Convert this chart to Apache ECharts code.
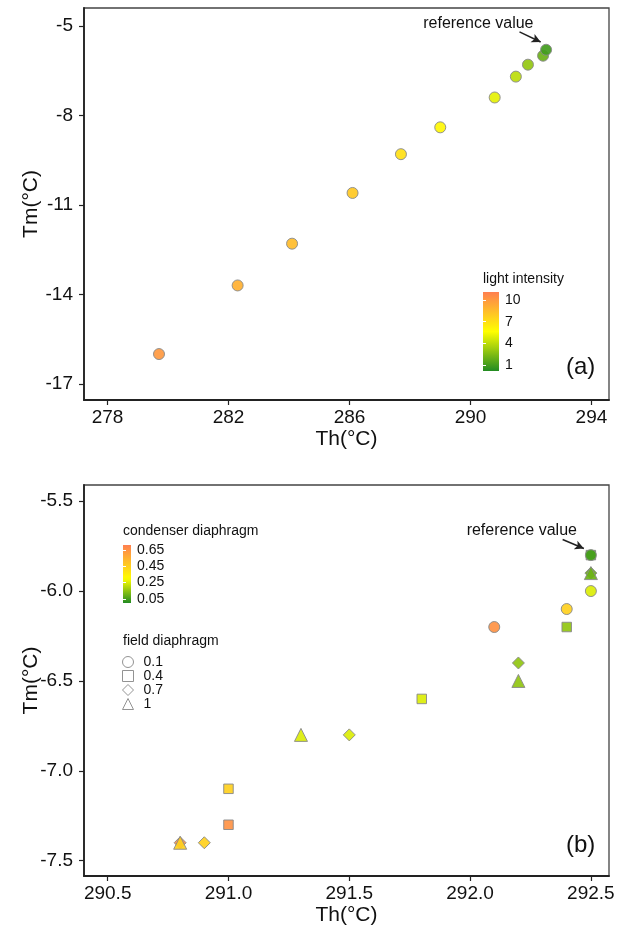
<!DOCTYPE html>
<html>
<head>
<meta charset="utf-8">
<script src="https://cdn.jsdelivr.net/npm/echarts@6/dist/echarts.min.js"></script>
<style>
  html, body { margin: 0; padding: 0; background: #fff; }
  #chart { width: 619px; height: 929px; }
</style>
</head>
<body>
<div id="chart"></div>
<script>
// panel (a): light intensity series
var thA = [279.7, 282.3, 284.1, 286.1, 287.7, 289.0, 290.8, 291.5, 291.9, 292.4, 292.5];
var tmA = [-16.0, -13.7, -12.3, -10.6, -9.3, -8.4, -7.4, -6.7, -6.3, -6.0, -5.8];
var lightA = [10, 9, 8.5, 8, 7, 6, 5, 4, 3, 2, 1];

// panel (b): condenser / field diaphragm series
var thB = [292.5, 292.5, 292.5, 292.5, 292.5, 292.4, 292.4, 292.1, 292.2, 292.2, 291.8, 291.3, 291.5, 291.0, 291.0, 290.8, 290.9, 290.8];
var tmB = [-5.8, -5.8, -5.9, -5.9, -6.0, -6.1, -6.2, -6.2, -6.4, -6.5, -6.6, -6.8, -6.8, -7.1, -7.3, -7.4, -7.4, -7.4];
var condB = [0.05, 0.05, 0.1, 0.1, 0.25, 0.45, 0.15, 0.65, 0.15, 0.15, 0.25, 0.25, 0.25, 0.45, 0.65, 0.45, 0.45, 0.65];
var fieldB = [0.4, 0.1, 1, 0.7, 0.1, 0.1, 0.4, 0.1, 0.7, 1, 0.4, 1, 0.7, 0.4, 0.4, 1, 0.7, 0.7];

// tick labels
var xTicksA = [278, 282, 286, 290, 294];
var yTicksA = [-17, -14, -11, -8, -5];
var xTicksB = [290.5, 291.0, 291.5, 292.0, 292.5];
var yTicksB = [-7.5, -7.0, -6.5, -6.0, -5.5];
var lightTicks = [1, 4, 7, 10];
var condTicks = [0.05, 0.25, 0.45, 0.65];
var fieldLevels = [0.1, 0.4, 0.7, 1];

// annotation anchors (data coords)
var refTextA = [290.26, -4.93];
var refArrowA = [[291.62, -5.2], [292.32, -5.54]];
var refTextB = [292.214, -5.661];
var refArrowB = [[292.383, -5.713], [292.471, -5.763]];

var FONT = '"Liberation Sans", Arial, sans-serif';
var rampColors = ['#228B22', '#FFFF00', '#FF7F50'];
var lightRange = [0.2, 11.1];
var condRange = [0, 0.71];

var chart = echarts.init(document.getElementById('chart'));

// green -> yellow -> coral, with yellow at position 'mid' (0..1)
function hexToRgb(h) { return [1, 3, 5].map(function (i) { return parseInt(h.substr(i, 2), 16); }); }
function mix(a, b, t) {
    var A = hexToRgb(a), B = hexToRgb(b);
    return 'rgb(' + A.map(function (v, i) { return Math.round(v + (B[i] - v) * t); }).join(',') + ')';
}
function rampAt(t, mid) {
    return t <= mid ? mix(rampColors[0], rampColors[1], t / mid) : mix(rampColors[1], rampColors[2], (t - mid) / (1 - mid));
}
function rampList(mid) {
    var out = [];
    for (var i = 0; i <= 20; i++) out.push(rampAt(i / 20, mid));
    return out;
}

function mainX(grid, min, max, ticks, fmt) {
    return {
        type: 'value', gridIndex: grid, min: min, max: max,
        name: 'Th(°C)', nameLocation: 'middle', nameGap: 29, nameMoveOverlap: false,
        nameTextStyle: { fontSize: 21, color: '#111', fontFamily: FONT },
        splitLine: { show: false },
        axisLine: { show: true, onZero: false, lineStyle: { color: '#222', width: 1.8 } },
        axisTick: { show: true, length: 5, lineStyle: { color: '#222', width: 1.2 }, customValues: ticks },
        axisLabel: { fontSize: 19, color: '#111', fontFamily: FONT, margin: 8, customValues: ticks, formatter: fmt }
    };
}
function mainY(grid, min, max, ticks, fmt) {
    return {
        type: 'value', gridIndex: grid, min: min, max: max,
        name: 'Tm(°C)', nameLocation: 'middle', nameGap: 42, nameMoveOverlap: false,
        nameTextStyle: { fontSize: 21, color: '#111', fontFamily: FONT },
        splitLine: { show: false },
        axisLine: { show: true, onZero: false, lineStyle: { color: '#222', width: 1.8 } },
        axisTick: { show: true, length: 5, lineStyle: { color: '#222', width: 1.2 }, customValues: ticks },
        axisLabel: { fontSize: 19, color: '#111', fontFamily: FONT, margin: 11, customValues: ticks, formatter: fmt }
    };
}
function barY(grid, range, ticks, side, showLabel) {
    return {
        type: 'value', gridIndex: grid, min: range[0], max: range[1], position: side, z: 10,
        splitLine: { show: false },
        axisLine: { show: false },
        axisTick: { show: true, inside: true, length: 3, lineStyle: { color: '#fff', width: 1 }, customValues: ticks },
        axisLabel: { show: showLabel, fontSize: 14, color: '#111', fontFamily: FONT, margin: 6, customValues: ticks }
    };
}
function hiddenX(grid) {
    return { type: 'value', gridIndex: grid, min: 0, max: 1, show: false };
}
function rampArea(range, mid) {
    var stops = [];
    for (var i = 0; i <= 20; i++) stops.push({ offset: i / 20, color: rampAt(i / 20, mid) });
    return {
        silent: true,
        itemStyle: { opacity: 1, color: { type: 'linear', x: 0, y: 1, x2: 0, y2: 0, colorStops: stops } },
        data: [[{ xAxis: 0, yAxis: range[0] }, { xAxis: 1, yAxis: range[1] }]]
    };
}
function refMarks(textPos, arrow) {
    return {
        markLine: {
            silent: true, symbol: ['none', 'arrow'], symbolSize: [7, 9],
            lineStyle: { color: '#222', width: 1.5, type: 'solid' },
            label: { show: false },
            data: [[{ coord: arrow[0] }, { coord: arrow[1] }]]
        },
        markPoint: {
            silent: true, symbol: 'circle', symbolSize: 0,
            label: { show: true, position: 'inside', formatter: 'reference value', fontSize: 16, color: '#111', fontFamily: FONT },
            data: [{ coord: textPos }]
        }
    };
}

var midA = 0.5, midB = 0.42;

var dataA = thA.map(function (x, i) { return [x, tmA[i], lightA[i]]; });

var shapeOf = { 0.1: 'circle', 0.4: 'rect', 0.7: 'diamond', 1: 'triangle' };
var sizeOf = { 0.1: 11, 0.4: 9.5, 0.7: 12, 1: 13 };
// draw order: squares, circles, diamonds, triangles
var drawOrder = [0.4, 0.1, 0.7, 1];
var seriesB = drawOrder.map(function (f) {
    var pts = [];
    thB.forEach(function (x, i) { if (fieldB[i] === f) pts.push([x, tmB[i], condB[i]]); });
    var s = {
        name: String(f), type: 'scatter', xAxisIndex: 1, yAxisIndex: 1,
        symbol: shapeOf[f], symbolSize: sizeOf[f],
        itemStyle: { borderColor: '#8a8a8a', borderWidth: 1, opacity: 0.92 },
        data: pts
    };
    if (f === 1) Object.assign(s, refMarks(refTextB, refArrowB));
    return s;
});

var seriesA = Object.assign({
    name: 'light', type: 'scatter', xAxisIndex: 0, yAxisIndex: 0,
    symbol: 'circle', symbolSize: 11,
    itemStyle: { borderColor: '#8a8a8a', borderWidth: 1, opacity: 0.92 },
    data: dataA
}, refMarks(refTextA, refArrowA));

var option = {
    backgroundColor: '#fff',
    animation: false,
    textStyle: { fontFamily: FONT },
    grid: [
        { left: 84, top: 8, width: 525, height: 392, show: true, borderColor: '#444', borderWidth: 1.3 },
        { left: 84, top: 485, width: 525, height: 391, show: true, borderColor: '#444', borderWidth: 1.3 },
        { left: 483, top: 292, width: 16, height: 79 },
        { left: 123, top: 545, width: 8, height: 58 }
    ],
    xAxis: [
        mainX(0, 277.22, 294.58, xTicksA),
        mainX(1, 290.402, 292.575, xTicksB, function (v) { return v.toFixed(1); }),
        hiddenX(2),
        hiddenX(3)
    ],
    yAxis: [
        mainY(0, -17.54, -4.40, yTicksA),
        mainY(1, -7.585, -5.41, yTicksB, function (v) { return v.toFixed(1); }),
        barY(2, lightRange, lightTicks, 'right', true),
        barY(2, lightRange, lightTicks, 'left', false),
        barY(3, condRange, condTicks, 'right', true),
        barY(3, condRange, condTicks, 'left', false)
    ],
    visualMap: [
        { type: 'continuous', show: false, seriesIndex: 0, dimension: 2,
          min: lightRange[0], max: lightRange[1], inRange: { color: rampList(midA) } },
        { type: 'continuous', show: false, seriesIndex: [1, 2, 3, 4], dimension: 2,
          min: condRange[0], max: condRange[1], inRange: { color: rampList(midB) } }
    ],
    legend: {
        orient: 'vertical', left: 122, top: 655, itemGap: 0,
        itemWidth: 11, itemHeight: 11, padding: 0,
        selectedMode: false,
        itemStyle: { color: '#fff', borderColor: '#8a8a8a', borderWidth: 1 },
        textStyle: { fontSize: 14, color: '#111', fontFamily: FONT, lineHeight: 11.5, padding: [0, 0, 0, 5] },
        data: fieldLevels.map(function (f) { return { name: String(f), icon: shapeOf[f] }; })
    },
    graphic: [
        { type: 'text', left: 483, top: 272, style: { text: 'light intensity', fontSize: 14, fill: '#111', fontFamily: FONT } },
        { type: 'text', left: 123, top: 524, style: { text: 'condenser diaphragm', fontSize: 14, fill: '#111', fontFamily: FONT } },
        { type: 'text', left: 123, top: 634, style: { text: 'field diaphragm', fontSize: 14, fill: '#111', fontFamily: FONT } },
        { type: 'text', left: 566, top: 355, style: { text: '(a)', fontSize: 24, fill: '#111', fontFamily: FONT } },
        { type: 'text', left: 566, top: 833, style: { text: '(b)', fontSize: 24, fill: '#111', fontFamily: FONT } }
    ],
    series: [seriesA].concat(seriesB).concat([
        { type: 'scatter', xAxisIndex: 2, yAxisIndex: 2, symbolSize: 0, data: [], markArea: rampArea(lightRange, midA) },
        { type: 'scatter', xAxisIndex: 3, yAxisIndex: 4, symbolSize: 0, data: [], markArea: rampArea(condRange, midB) }
    ])
};

chart.setOption(option);
</script>
</body>
</html>
